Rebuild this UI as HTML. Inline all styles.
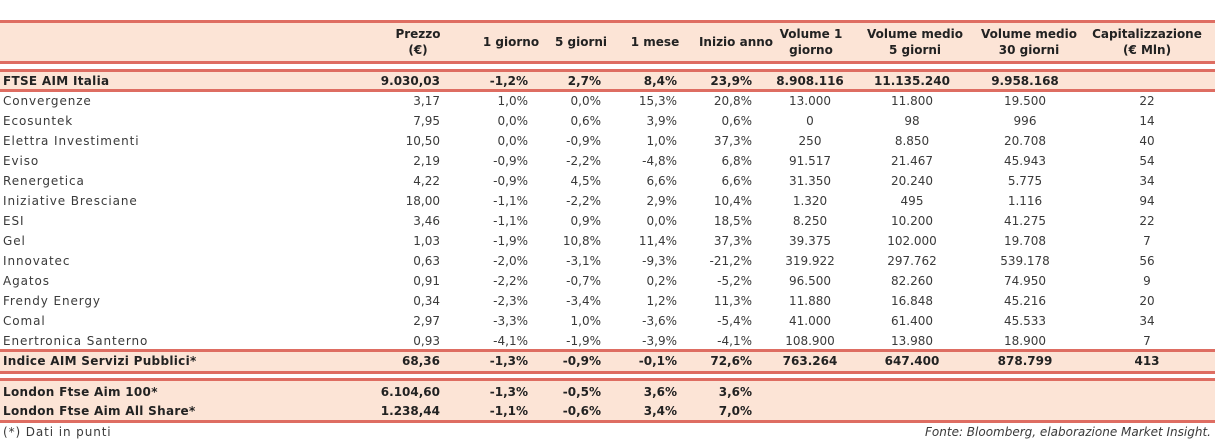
<!DOCTYPE html>
<html><head><meta charset="utf-8"><style>
body{margin:0;background:#fff;width:1215px;height:443px;position:relative;overflow:hidden;font-family:"DejaVu Sans","Liberation Sans",sans-serif;font-size:12px;color:#3a3a3a;}
.band{position:absolute;left:0;width:1215px;background:#fce4d6;}
.line{position:absolute;left:0;width:1215px;height:3px;background:#de6d62;}
.c{position:absolute;white-space:nowrap;line-height:14px;}
.b{font-weight:bold;color:#222;}
.h{font-weight:bold;color:#222;text-align:center;line-height:16px;}
.lbl{letter-spacing:0.9px;}
.lbl.b{letter-spacing:0.3px;}
</style></head><body>
<div class="band" style="top:21px;height:42px"></div>
<div class="band" style="top:71px;height:20px"></div>
<div class="band" style="top:351px;height:21px"></div>
<div class="band" style="top:380px;height:41px"></div>
<div class="line" style="top:20px"></div>
<div class="line" style="top:61px"></div>
<div class="line" style="top:69px"></div>
<div class="line" style="top:89px"></div>
<div class="line" style="top:349px"></div>
<div class="line" style="top:371px"></div>
<div class="line" style="top:378px"></div>
<div class="line" style="top:420px"></div>
<div class="c lbl" style="left:3px;top:425px">(*) Dati in punti</div>
<div class="c" style="right:4px;top:425px;font-style:italic">Fonte: Bloomberg, elaborazione Market Insight.</div>
<script>
const headers=["Prezzo<br>(€)","1 giorno","5 giorni","1 mese","Inizio anno","Volume 1<br>giorno","Volume medio<br>5 giorni","Volume medio<br>30 giorni","Capitalizzazione<br>(€ Mln)"];
const headerCenters=[418,511,581,655,736,811,915,1029,1147];
const names=["FTSE AIM Italia","Convergenze","Ecosuntek","Elettra Investimenti","Eviso","Renergetica","Iniziative Bresciane","ESI","Gel","Innovatec","Agatos","Frendy Energy","Comal","Enertronica Santerno","Indice AIM Servizi Pubblici*","London Ftse Aim 100*","London Ftse Aim All Share*"];
const rowsData=[
["9.030,03","-1,2%","2,7%","8,4%","23,9%","8.908.116","11.135.240","9.958.168",""],
["3,17","1,0%","0,0%","15,3%","20,8%","13.000","11.800","19.500","22"],
["7,95","0,0%","0,6%","3,9%","0,6%","0","98","996","14"],
["10,50","0,0%","-0,9%","1,0%","37,3%","250","8.850","20.708","40"],
["2,19","-0,9%","-2,2%","-4,8%","6,8%","91.517","21.467","45.943","54"],
["4,22","-0,9%","4,5%","6,6%","6,6%","31.350","20.240","5.775","34"],
["18,00","-1,1%","-2,2%","2,9%","10,4%","1.320","495","1.116","94"],
["3,46","-1,1%","0,9%","0,0%","18,5%","8.250","10.200","41.275","22"],
["1,03","-1,9%","10,8%","11,4%","37,3%","39.375","102.000","19.708","7"],
["0,63","-2,0%","-3,1%","-9,3%","-21,2%","319.922","297.762","539.178","56"],
["0,91","-2,2%","-0,7%","0,2%","-5,2%","96.500","82.260","74.950","9"],
["0,34","-2,3%","-3,4%","1,2%","11,3%","11.880","16.848","45.216","20"],
["2,97","-3,3%","1,0%","-3,6%","-5,4%","41.000","61.400","45.533","34"],
["0,93","-4,1%","-1,9%","-3,9%","-4,1%","108.900","13.980","18.900","7"],
["68,36","-1,3%","-0,9%","-0,1%","72,6%","763.264","647.400","878.799","413"],
["6.104,60","-1,3%","-0,5%","3,6%","3,6%","","","",""],
["1.238,44","-1,1%","-0,6%","3,4%","7,0%","","","",""]];
const rowY=[81,101,121,141,161,181,201,221,241,261,281,301,321,341,361,392,411];
const boldRows=[0,14,15,16];
const rightEdges=[440,528,601,677,752,null,null,null,null];
const centers=[null,null,null,null,null,810,912,1025,1147];
headers.forEach((h,i)=>{
  const d=document.createElement('div');d.className='c h';d.innerHTML=h;
  
  
  d.style.left=(headerCenters[i]-80)+'px';d.style.width='160px';
  d.style.top=(h.includes('<br>')?26:34)+'px';
  document.body.appendChild(d);
});
names.forEach((n,r)=>{
  const bold=boldRows.includes(r);
  const d=document.createElement('div');d.className='c lbl'+(bold?' b':'');d.textContent=n;
  
  
  d.style.left='3px';d.style.top=(rowY[r]-7)+'px';
  document.body.appendChild(d);
  rowsData[r].forEach((v,c)=>{
    if(!v)return;
    const e=document.createElement('div');e.className='c'+(bold?' b':'');e.textContent=v;
    
    
    e.style.top=(rowY[r]-7)+'px';
    if(rightEdges[c]!==null){e.style.right=(1215-rightEdges[c])+'px';}
    else{e.style.left=(centers[c]-60)+'px';e.style.width='120px';e.style.textAlign='center';}
    document.body.appendChild(e);
  });
});
</script>
</body></html>
